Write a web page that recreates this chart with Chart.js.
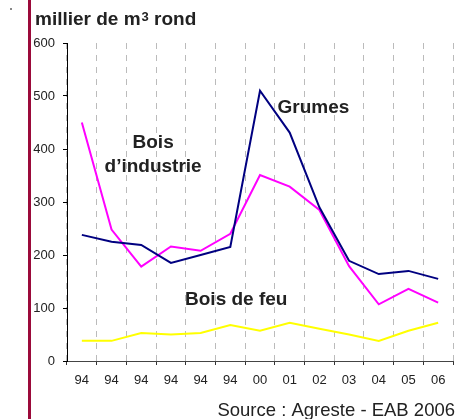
<!DOCTYPE html>
<html>
<head>
<meta charset="utf-8">
<script src="https://cdn.jsdelivr.net/npm/chart.js@4"></script>
<style>
  html, body { margin: 0; padding: 0; background: #fff; }
  #wrap { position: relative; width: 456px; height: 419px; }
</style>
</head>
<body>
<div id="wrap"><canvas id="woodChart" width="456" height="419"></canvas></div>
<script>
const years = ["94", "94", "94", "94", "94", "94", "00", "01", "02", "03", "04", "05", "06"];
const grumes = [238, 225, 219, 185, 200, 215, 510, 431, 290, 189, 164, 170, 155];
const boisIndustrie = [450, 248, 178, 216, 208, 240, 351, 329, 285, 179, 107, 136, 110];
const boisFeu = [38, 38, 53, 50, 53, 68, 57, 72, 61, 50, 38, 57, 72];
const yTicks = [0, 100, 200, 300, 400, 500, 600];

const FONT = "'Liberation Sans', Arial, sans-serif";
const TEXT = "#222";

// series labels written on the plot, placed in data coordinates
const seriesLabels = [
    { text: "Bois", x: 2.4, y: 411 },
    { text: "d\u2019industrie", x: 2.4, y: 366 },
    { text: "Grumes", x: 7.8, y: 477 },
    { text: "Bois de feu", x: 5.2, y: 115 },
];

const decorations = {
    id: "decorations",
    beforeDraw(chart) {
        const c = chart.ctx;
        c.save();
        c.fillStyle = "#9b0a3a";
        c.fillRect(28, 0, 3, 419);
        c.fillStyle = "#888";
        c.fillRect(10, 8, 2, 2);
        c.restore();
    },
    afterDraw(chart) {
        const c = chart.ctx;
        const x = chart.scales.x;
        const y = chart.scales.y;
        c.save();
        c.fillStyle = TEXT;
        c.textBaseline = "alphabetic";

        // unit title
        c.textAlign = "left";
        c.font = "bold 19px " + FONT;
        c.fillText("millier de m", 35, 25);
        let px = 35 + c.measureText("millier de m").width + 1;
        c.font = "bold 13px " + FONT;
        c.fillText("3", px, 21);
        px += c.measureText("3").width;
        c.font = "bold 19px " + FONT;
        c.fillText(" rond", px, 25);

        // series names
        c.textAlign = "center";
        c.textBaseline = "middle";
        c.font = "bold 19px " + FONT;
        seriesLabels.forEach((l) => {
            c.fillText(l.text, x.getPixelForValue(l.x), y.getPixelForValue(l.y));
        });

        // source
        c.textAlign = "right";
        c.textBaseline = "alphabetic";
        c.font = "18.5px " + FONT;
        c.fillText("Source : Agreste - EAB 2006", 455, 416);
        c.restore();
    },
};

new Chart(document.getElementById("woodChart"), {
    type: "line",
    data: {
        labels: years,
        datasets: [
            { label: "Grumes", data: grumes, borderColor: "#000080" },
            { label: "Bois d'industrie", data: boisIndustrie, borderColor: "#ff00ff" },
            { label: "Bois de feu", data: boisFeu, borderColor: "#ffff00" },
        ],
    },
    options: {
        responsive: false,
        animation: false,
        devicePixelRatio: 1,
        layout: { padding: { left: 30, top: 43, right: 3, bottom: 28 } },
        elements: {
            line: { borderWidth: 2, tension: 0 },
            point: { radius: 0 },
        },
        plugins: {
            legend: { display: false },
            tooltip: { enabled: false },
        },
        scales: {
            x: {
                offset: true,
                afterFit: (s) => { s.height = 30; },
                grid: {
                    offset: true,
                    color: "#bbbbbb",
                    lineWidth: 1,
                    tickColor: "#333",
                    tickLength: 4,
                    tickBorderDash: [],
                },
                border: { color: "#444", width: 1, dash: [6, 6] },
                ticks: {
                    color: TEXT,
                    font: { family: FONT, size: 13 },
                    padding: 8,
                    maxRotation: 0,
                    autoSkip: false,
                },
            },
            y: {
                min: 0,
                max: 600,
                afterFit: (s) => { s.width = 37; },
                afterBuildTicks: (s) => { s.ticks = yTicks.map((v) => ({ value: v })); },
                grid: {
                    drawOnChartArea: false,
                    tickColor: "#000",
                    tickLength: 4,
                },
                border: { color: "#000", width: 1 },
                ticks: {
                    color: TEXT,
                    font: { family: FONT, size: 13 },
                    padding: 8,
                },
            },
        },
    },
    plugins: [decorations],
});
</script>
</body>
</html>
